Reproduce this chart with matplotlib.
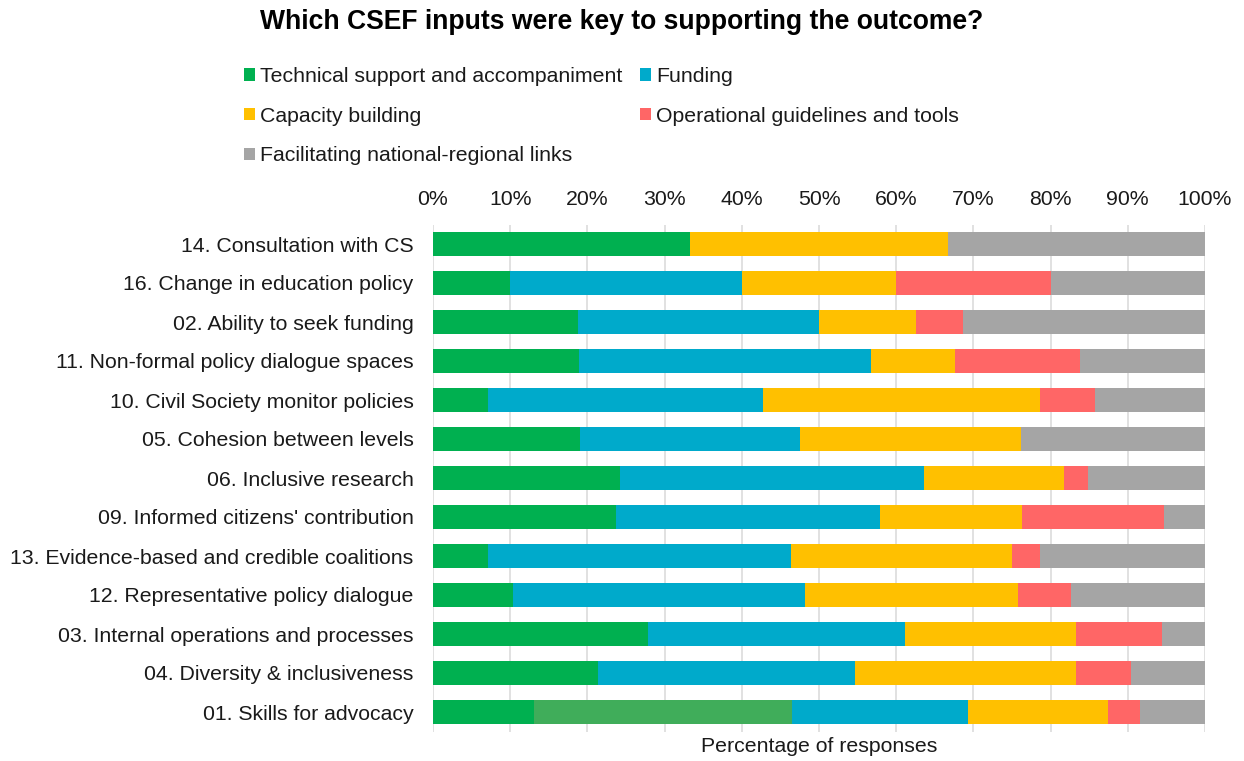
import matplotlib
matplotlib.use("Agg")
import matplotlib.pyplot as plt
from matplotlib.patches import Patch
from matplotlib.ticker import PercentFormatter, MultipleLocator

plt.rcParams["font.family"] = ["Liberation Sans", "DejaVu Sans"]

# Outcomes, top to bottom
outcomes = [
    "14. Consultation with CS",
    "16. Change in education policy",
    "02. Ability to seek funding",
    "11. Non-formal policy dialogue spaces",
    "10. Civil Society monitor policies",
    "05. Cohesion between levels",
    "06. Inclusive research",
    "09. Informed citizens' contribution",
    "13. Evidence-based and credible coalitions",
    "12. Representative policy dialogue",
    "03. Internal operations and processes",
    "04. Diversity & inclusiveness",
    "01. Skills for advocacy",
]

# Share of responses (%) per input
technical = [33.3, 10.0, 18.8, 18.9, 7.1, 19.0, 24.2, 23.7, 7.1, 10.3, 27.8, 21.4, 13.1]
technical_extra = [0, 0, 0, 0, 0, 0, 0, 0, 0, 0, 0, 0, 33.4]
funding = [0, 30.0, 31.2, 37.9, 35.7, 28.6, 39.4, 34.2, 39.3, 37.9, 33.3, 33.3, 22.8]
capacity = [33.4, 20.0, 12.5, 10.8, 35.8, 28.6, 18.2, 18.4, 28.6, 27.6, 22.2, 28.6, 18.1]
operational = [0, 20.0, 6.2, 16.2, 7.1, 0, 3.0, 18.4, 3.6, 6.9, 11.1, 7.1, 4.2]
facilitating = [33.3, 20.0, 31.3, 16.2, 14.3, 23.8, 15.2, 5.3, 21.4, 17.3, 5.6, 9.6, 8.4]

series = [
    ("Technical support and accompaniment", technical, "#00B050"),
    (None, technical_extra, "#40AD5A"),
    ("Funding", funding, "#00AACB"),
    ("Capacity building", capacity, "#FFC000"),
    ("Operational guidelines and tools", operational, "#FF6666"),
    ("Facilitating national-regional links", facilitating, "#A5A5A5"),
]

fig = plt.figure(figsize=(12.44, 7.61), dpi=100)
ax = fig.add_axes([433 / 1244, 1 - 731.5 / 761, 772 / 1244, 507 / 761])

ypos = list(range(len(outcomes)))
left = [0.0] * len(outcomes)
for label, vals, color in series:
    ax.barh(ypos, vals, left=left, height=0.62, color=color, linewidth=0, zorder=2)
    left = [l + v for l, v in zip(left, vals)]

ax.set_ylim(len(outcomes) - 0.5, -0.5)
ax.set_xlim(0, 100)
ax.set_yticks(ypos)
ax.set_yticklabels(outcomes, fontsize=15.3, color="#1a1a1a")
ax.xaxis.set_major_locator(MultipleLocator(10))
ax.xaxis.set_major_formatter(PercentFormatter(decimals=0))
ax.xaxis.tick_top()
ax.tick_params(axis="x", length=0, pad=11, labelsize=15.3, labelcolor="#1a1a1a")
ax.tick_params(axis="y", length=0, pad=14)
ax.xaxis.set_label_position("bottom")
ax.set_xlabel("Percentage of responses", fontsize=15.3, color="#1a1a1a", labelpad=4)
ax.grid(axis="x", color="#D9D9D9", linewidth=1.1, zorder=0)
ax.set_axisbelow(True)
for side in ax.spines.values():
    side.set_visible(False)

fig.text(0.5, 1 - 22 / 761, "Which CSEF inputs were key to supporting the outcome?",
         ha="center", va="center", fontsize=19.1, fontweight="bold")

# Legend reads row by row: matplotlib fills columns first, so reorder
named = {lbl: col for lbl, _, col in series if lbl}
order = [
    "Technical support and accompaniment",
    "Capacity building",
    "Facilitating national-regional links",
    "Funding",
    "Operational guidelines and tools",
]
handles = [Patch(facecolor=named[n], edgecolor="none", label=n) for n in order]
fig.legend(handles=handles, loc="upper left", ncol=2,
           bbox_to_anchor=(244 / 1244, 1 - 67 / 761), frameon=False,
           fontsize=15.3, handlelength=0.5, handleheight=0.5, handletextpad=0.25,
           columnspacing=0.85, labelspacing=0.97, borderpad=0, borderaxespad=0,
           labelcolor="#1a1a1a")

fig.savefig("out.png", dpi=100)
